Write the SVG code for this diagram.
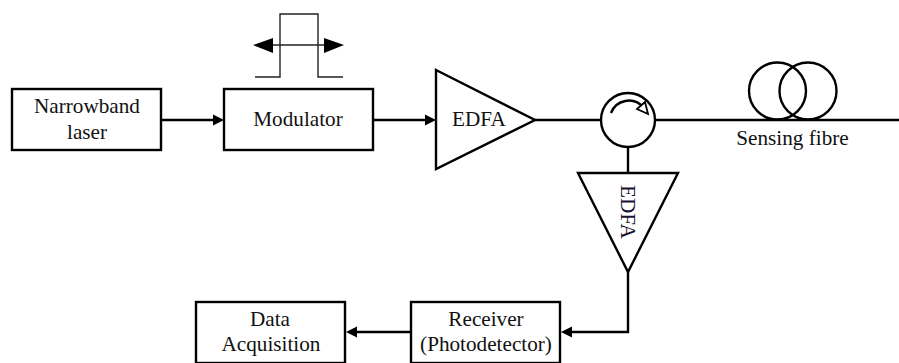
<svg xmlns="http://www.w3.org/2000/svg" width="899" height="363" viewBox="0 0 899 363">
<style>
.s{fill:none;stroke:#000;stroke-width:2.4}
.b{fill:#fff;stroke:#000;stroke-width:2.4}
.t{font-family:"Liberation Serif","Times New Roman",serif;font-size:21.2px;fill:#111;text-anchor:middle}
.a{fill:#000;stroke:none}
</style>
<g id="connectors">
<path class="s" d="M162 120H214"/><polygon class="a" points="224,120 213,114.5 213,125.5"/>
<path class="s" d="M373 120H426"/><polygon class="a" points="436,120 425,114.5 425,125.5"/>
<path class="s" d="M535 120H601"/>
<path class="s" d="M655 120H899"/>
<path class="s" d="M628 146V173"/>
<path class="s" d="M628 272V332H572"/><polygon class="a" points="561,332 572,326.5 572,337.5"/>
<path class="s" d="M411 332H356"/><polygon class="a" points="346,332 357,326.5 357,337.5"/>
</g>
<g id="pulse">
<path fill="none" stroke="#222" stroke-width="1.4" d="M255 77H280V14H318V77H343"/>
<path fill="none" stroke="#222" stroke-width="1.4" d="M270 45H326"/>
<polygon class="a" points="253,45 273,38 273,53"/>
<polygon class="a" points="344,45 324,38 324,53"/>
</g>
<g id="laser"><rect class="s" x="12" y="89" width="149" height="61"/>
<text class="t" x="87" y="113">Narrowband</text><text class="t" x="87" y="139">laser</text></g>
<g id="modulator"><rect class="s" x="224" y="89" width="149" height="61"/>
<text class="t" x="298" y="126">Modulator</text></g>
<g id="edfa1"><polygon class="s" points="436,70 535,120 436,169"/>
<text class="t" x="479" y="126">EDFA</text></g>
<g id="circulator"><circle class="s" cx="628" cy="120" r="27"/>
<path class="s" d="M611 113A19 19 0 0 1 643 107"/>
<polygon class="b" points="648,114 637,109 645,102" style="stroke-width:1.8"/></g>
<g id="fibre"><circle class="s" cx="777.5" cy="91" r="28.5"/><circle class="s" cx="808" cy="91" r="28.5"/>
<text class="t" x="792.5" y="145">Sensing fibre</text></g>
<g id="edfa2"><polygon class="s" points="578,173 678,173 628,272"/>
<text class="t" transform="translate(621 185) rotate(90)" style="text-anchor:start;fill:#1a1030">EDFA</text></g>
<g id="receiver"><rect class="s" x="411" y="302" width="149" height="61"/>
<text class="t" x="486" y="326">Receiver</text><text class="t" x="486" y="351">(Photodetector)</text></g>
<g id="daq"><rect class="s" x="196" y="302" width="149" height="61"/>
<text class="t" x="270" y="326">Data</text><text class="t" x="271" y="351">Acquisition</text></g>
</svg>
